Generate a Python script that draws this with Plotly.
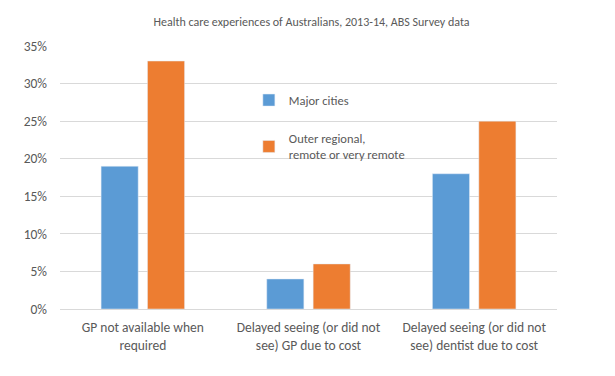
import plotly.graph_objects as go

categories = ["GP not available when<br>required",
              "Delayed seeing (or did not<br>see) GP due to cost",
              "Delayed seeing (or did not<br>see) dentist due to cost"]
major_cities = [0.19, 0.04, 0.18]
outer_regional = [0.33, 0.06, 0.25]
tick_vals = [0, 0.05, 0.10, 0.15, 0.20, 0.25, 0.30, 0.35]
tick_text = ["0%", "5%", "10%", "15%", "20%", "25%", "30%", "35%"]

font_family = "Carlito, Calibri, 'Open Sans', sans-serif"
gray = "#595959"

fig = go.Figure()
fig.add_trace(go.Bar(x=categories, y=major_cities, name="Major cities",
                     marker_color="#5B9BD5", legendgroup="a"))
fig.add_trace(go.Bar(x=categories, y=outer_regional,
                     name="Outer regional,<br>remote or very remote",
                     marker_color="#ED7D31", legendgroup="b"))

fig.update_layout(
    width=607, height=368,
    margin=dict(l=52, r=58, t=38, b=67),
    paper_bgcolor="white", plot_bgcolor="white",
    font=dict(family=font_family, size=12, color=gray),
    title=dict(text="Health care experiences of Australians, 2013-14, ABS Survey data",
               x=0.5, xanchor="center", y=0.962, yanchor="middle",
               font=dict(size=12, color=gray)),
    barmode="group", bargap=0.44, bargroupgap=0.2,
    showlegend=True,
    legend=dict(x=0.38, y=0.85, xanchor="left", yanchor="top",
                bgcolor="rgba(0,0,0,0)", font=dict(size=12.5, color=gray),
                tracegroupgap=19, itemwidth=30, traceorder="grouped"),
    xaxis=dict(showgrid=False, showline=True, linecolor="#d9d9d9", linewidth=1,
               ticks="", tickfont=dict(size=13.5, color=gray),
               ticklabelstandoff=6),
    yaxis=dict(range=[0, 0.35], tickvals=tick_vals, ticktext=tick_text,
               showgrid=True, gridcolor="#d9d9d9", gridwidth=1,
               zeroline=False, showline=False, ticks="",
               tickfont=dict(size=13.5, color=gray), ticklabelstandoff=12),
)

fig.write_html("out.html")
